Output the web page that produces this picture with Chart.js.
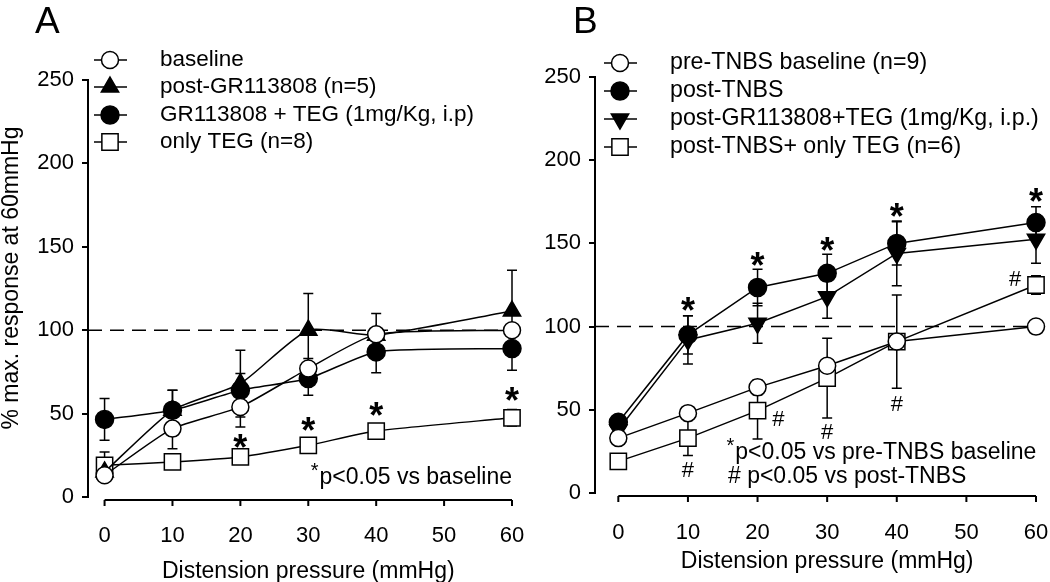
<!DOCTYPE html>
<html>
<head>
<meta charset="utf-8">
<script src="https://cdn.jsdelivr.net/npm/chart.js@4.4.1/dist/chart.umd.min.js"></script>
<style>
  html, body { margin: 0; padding: 0; background: #fff; }
  #wrap { position: relative; width: 1050px; height: 582px; overflow: hidden; }
  .panel { position: absolute; top: 0; width: 525px; height: 582px; }
  #panelA { left: 0; }
  #panelB { left: 525px; }
</style>
</head>
<body>
<div id="wrap">
  <div class="panel" id="panelA"><canvas id="chartA" width="525" height="582"></canvas></div>
  <div class="panel" id="panelB"><canvas id="chartB" width="525" height="582"></canvas></div>
</div>
<script>
const xTickValues = [0, 10, 20, 30, 40, 50, 60];
const yTickValues = [0, 50, 100, 150, 200, 250];
const pressures = [0, 10, 20, 30, 40, 60];

// panel A
const baselineA = [13, 41, 54, 77, 97.5, 100];
const baselineErrA = [3, 12, 12, 6, 3, 0];
const postGRA = [15, 52, 68, 100, 97, 111.5];
const postGRErrA = [3, 12, 20, 22, 13, 24.5];
const grTegA = [46.5, 52, 64, 71, 87, 89];
const grTegErrA = [12.5, 12, 10, 10, 12.5, 13];
const onlyTegA = [19, 21, 24, 31, 39.5, 47.5];
const onlyTegErrA = [8, 2, 2, 2, 4, 5];
const starXA = [20, 30, 40, 60];
const starYA = [35, 45, 54, 63];

// panel B
const preTnbsB = [33, 48, 63.5, 76.5, 91, 100];
const preTnbsErrB = [3, 3, 4.5, 4, 3, 0];
const postTnbsB = [42.5, 95, 123.5, 132, 150, 162.5];
const postTnbsErrB = [4, 11.5, 11, 11.5, 13, 9.5];
const postGRTegB = [38, 92, 102, 118, 144, 152.5];
const postGRTegErrB = [4, 14.5, 12, 13, 19.5, 14.5];
const onlyTegB = [19, 33, 49.5, 69, 91, 125];
const onlyTegErrB = [4, 10.5, 17, 24, 28, 5.5];
const starXB = [10, 20, 30, 40, 60];
const starYB = [115, 142, 151, 171, 180];
const hashXB = [10, 23, 30, 40, 57];
const hashYB = [13, 44, 36, 53, 128];

const FONT = "'Liberation Sans', Arial, sans-serif";
Chart.defaults.font.family = FONT;
Chart.defaults.color = '#000';

const openCircle = { shape: 'circle', radius: 8.5, fill: '#fff' };
const filledCircle = { shape: 'circle', radius: 9, fill: '#000' };
const upTriangle = { shape: 'triangle', radius: 10, rotation: 0, fill: '#000' };
const downTriangle = { shape: 'triangle', radius: 10, rotation: 180, fill: '#000' };
const openSquare = { shape: 'rect', radius: 11.5, fill: '#fff' };

function series(label, values, errors, st) {
  return {
    label: label,
    data: pressures.map((x, i) => ({ x: x, y: values[i] })),
    errors: errors,
    marker: st,
    borderColor: '#000',
    borderWidth: 1.5,
    pointStyle: st.shape,
    pointRadius: st.radius,
    pointRotation: st.rotation || 0,
    pointBackgroundColor: st.fill,
    pointBorderColor: '#000',
    pointBorderWidth: 1.5,
    fill: false,
    clip: false
  };
}

// asterisk glyph sits high, so shift the baseline to centre it
function drawStar(ctx, x, yc, size, align, bold) {
  ctx.font = (bold ? 'bold ' : '') + size + 'px ' + FONT;
  ctx.textAlign = align;
  ctx.textBaseline = 'alphabetic';
  ctx.fillText('*', x, yc + 0.58 * size);
}

const decor = {
  id: 'decor',
  beforeDatasetsDraw(chart, args, o) {
    const { ctx, chartArea } = chart;
    const xs = chart.scales.x, ys = chart.scales.y;
    ctx.save();
    ctx.strokeStyle = '#000';
    ctx.lineWidth = 1.5;

    // dashed 100% line
    const y100 = ys.getPixelForValue(100);
    ctx.setLineDash([14, 8]);
    ctx.beginPath();
    ctx.moveTo(chartArea.left, y100);
    ctx.lineTo(xs.getPixelForValue(60), y100);
    ctx.stroke();
    ctx.setLineDash([]);

    // error bars
    chart.data.datasets.forEach(ds => {
      ds.data.forEach((p, i) => {
        const e = ds.errors[i];
        if (!e) return;
        const px = xs.getPixelForValue(p.x);
        const top = ys.getPixelForValue(p.y + e);
        const bot = ys.getPixelForValue(p.y - e);
        ctx.beginPath();
        ctx.moveTo(px, top); ctx.lineTo(px, bot);
        ctx.moveTo(px - 5, top); ctx.lineTo(px + 5, top);
        ctx.moveTo(px - 5, bot); ctx.lineTo(px + 5, bot);
        ctx.stroke();
      });
    });
    ctx.restore();
  },
  afterDraw(chart, args, o) {
    const { ctx, chartArea } = chart;
    const xs = chart.scales.x, ys = chart.scales.y;
    ctx.save();
    ctx.fillStyle = '#000';
    ctx.strokeStyle = '#000';

    // x axis, a little below the y axis end
    const yAx = chartArea.bottom + 3;
    ctx.lineWidth = 2;
    ctx.beginPath();
    ctx.moveTo(xs.getPixelForValue(0), yAx);
    ctx.lineTo(xs.getPixelForValue(60), yAx);
    xTickValues.forEach(v => {
      const px = xs.getPixelForValue(v);
      ctx.moveTo(px, yAx);
      ctx.lineTo(px, yAx + 6);
    });
    ctx.stroke();

    // axis titles
    ctx.font = '23px ' + FONT;
    ctx.textAlign = 'center';
    ctx.textBaseline = 'middle';
    ctx.fillText('Distension pressure (mmHg)', xs.getPixelForValue(30), chartArea.bottom + o.xTitleDy);
    if (o.yTitle) {
      ctx.save();
      ctx.translate(12, o.yTitleY);
      ctx.rotate(-Math.PI / 2);
      ctx.fillText(o.yTitle, 0, 0);
      ctx.restore();
    }

    // panel letter
    ctx.font = '37px ' + FONT;
    ctx.textAlign = 'left';
    ctx.textBaseline = 'alphabetic';
    ctx.fillText(o.letter, o.letterX, 33);

    // legend
    chart.data.datasets.forEach((ds, i) => {
      const y = o.legendRows[i];
      const st = ds.marker;
      ctx.lineWidth = 1.5;
      ctx.beginPath();
      ctx.moveTo(o.legendX - 16, y);
      ctx.lineTo(o.legendX + 17, y);
      ctx.stroke();
      ctx.fillStyle = st.fill;
      Chart.helpers.drawPoint(ctx, {
        pointStyle: st.shape, radius: st.radius, rotation: st.rotation || 0, borderWidth: 1.5
      }, o.legendX, y);
      ctx.fillStyle = '#000';
      ctx.font = o.legendFont + 'px ' + FONT;
      ctx.textAlign = 'left';
      ctx.textBaseline = 'middle';
      ctx.fillText(ds.label, o.textX, y);
    });

    // significance marks
    o.starX.forEach((x, i) => {
      drawStar(ctx, xs.getPixelForValue(x), ys.getPixelForValue(o.starY[i]), 36, 'center', true);
    });
    ctx.font = '22px ' + FONT;
    ctx.textAlign = 'center';
    ctx.textBaseline = 'middle';
    o.hashX.forEach((x, i) => {
      ctx.fillText('#', xs.getPixelForValue(x), ys.getPixelForValue(o.hashY[i]));
    });

    // notes
    o.notes.forEach(n => {
      const px = xs.getPixelForValue(n.x);
      const py = ys.getPixelForValue(n.y);
      ctx.font = '23px ' + FONT;
      ctx.textAlign = n.align;
      ctx.textBaseline = 'middle';
      ctx.fillText(n.text, px, py);
      if (n.sup) {
        const w = ctx.measureText(n.text).width;
        const start = n.align === 'right' ? px - w : px;
        drawStar(ctx, start - 1, py - 12, 20, 'right', false);
      }
    });
    ctx.restore();
  }
};

function makeChart(id, cfg) {
  return new Chart(document.getElementById(id), {
    type: 'line',
    data: { datasets: cfg.datasets },
    plugins: [decor],
    options: {
      responsive: false,
      animation: false,
      events: [],
      layout: { padding: { left: 0, top: cfg.top, right: cfg.padRight, bottom: 0 } },
      elements: { line: { tension: cfg.tension } },
      plugins: {
        legend: { display: false },
        tooltip: { enabled: false },
        decor: cfg.decor
      },
      scales: {
        x: {
          type: 'linear',
          min: cfg.xMin,
          max: 60,
          afterBuildTicks: s => { s.ticks = xTickValues.map(v => ({ value: v })); },
          afterFit: s => { s.height = cfg.xHeight; s.paddingLeft = 0; s.paddingRight = 0; },
          grid: { display: false },
          border: { display: false },
          ticks: { color: '#000', font: { size: 22 }, padding: cfg.xTickPad, maxRotation: 0, autoSkip: false }
        },
        y: {
          min: 0,
          max: 250,
          afterBuildTicks: s => { s.ticks = yTickValues.map(v => ({ value: v })); },
          afterFit: s => { s.width = cfg.yWidth; s.paddingTop = 0; s.paddingBottom = 0; },
          grid: { drawOnChartArea: false, drawTicks: true, tickLength: 6, color: '#000', lineWidth: 2 },
          border: { display: true, color: '#000', width: 2 },
          ticks: { color: '#000', font: { size: 22 }, padding: 8 }
        }
      }
    }
  });
}

makeChart('chartA', {
  datasets: [
    series('baseline', baselineA, baselineErrA, openCircle),
    series('post-GR113808 (n=5)', postGRA, postGRErrA, upTriangle),
    series('GR113808 + TEG (1mg/Kg, i.p)', grTegA, grTegErrA, filledCircle),
    series('only TEG (n=8)', onlyTegA, onlyTegErrA, openSquare)
  ],
  top: 80, padRight: 2.3, xMin: -2.44, xHeight: 85, xTickPad: 18,
  yWidth: 88, tension: 0.2,
  decor: {
    letter: 'A', letterX: 35,
    xTitleDy: 75, yTitle: '% max. response at 60mmHg', yTitleY: 278,
    legendX: 110, textX: 160, legendRows: [60, 87, 115, 142], legendFont: 22.5,
    starX: starXA, starY: starYA, hashX: [], hashY: [],
    notes: [{ text: 'p<0.05 vs baseline', x: 60, y: 11.5, align: 'right', sup: true }]
  }
});

makeChart('chartB', {
  datasets: [
    series('pre-TNBS baseline (n=9)', preTnbsB, preTnbsErrB, openCircle),
    series('post-TNBS', postTnbsB, postTnbsErrB, filledCircle),
    series('post-GR113808+TEG (1mg/Kg, i.p.)', postGRTegB, postGRTegErrB, downTriangle),
    series('post-TNBS+ only TEG (n=6)', onlyTegB, onlyTegErrB, openSquare)
  ],
  top: 77, padRight: 14, xMin: -3.35, xHeight: 89, xTickPad: 19,
  yWidth: 70, tension: 0,
  decor: {
    letter: 'B', letterX: 48,
    xTitleDy: 69, yTitle: null, yTitleY: 0,
    legendX: 95, textX: 145, legendRows: [63, 91, 119, 147], legendFont: 23.2,
    starX: starXB, starY: starYB, hashX: hashXB, hashY: hashYB,
    notes: [
      { text: 'p<0.05 vs pre-TNBS baseline', x: 16.8, y: 24.2, align: 'left', sup: true },
      { text: '# p<0.05 vs post-TNBS', x: 15.75, y: 9.8, align: 'left', sup: false }
    ]
  }
});
</script>
</body>
</html>
